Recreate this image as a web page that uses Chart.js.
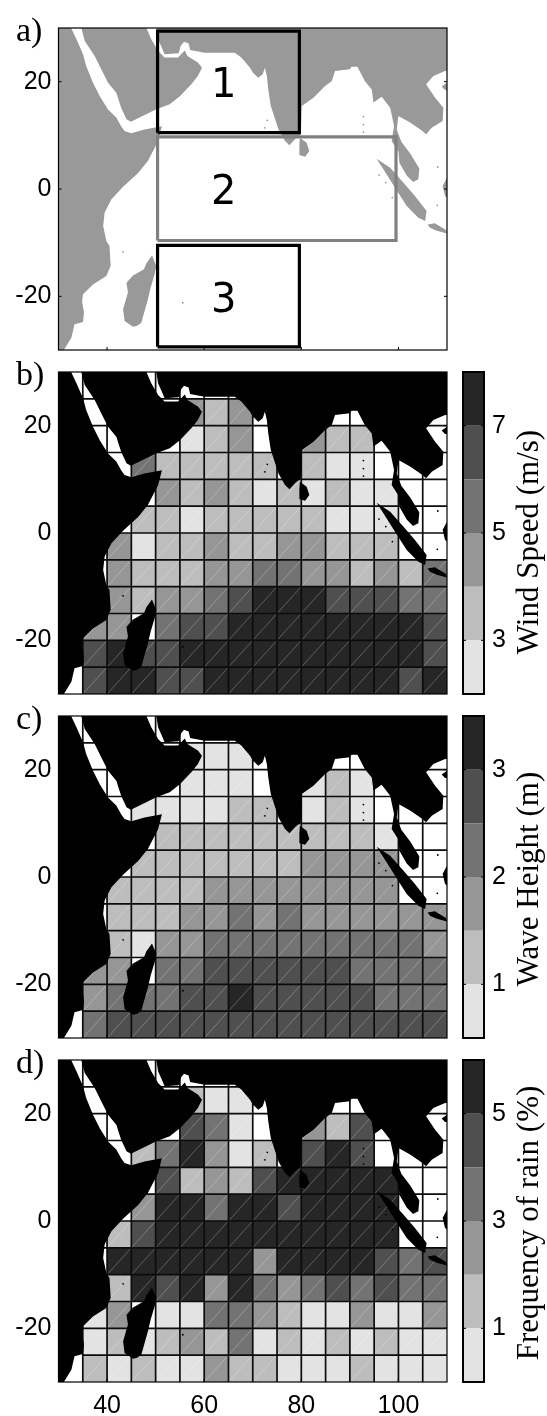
<!DOCTYPE html>
<html>
<head>
<meta charset="utf-8">
<script src="https://cdn.jsdelivr.net/npm/chart.js@4"></script>
<style>
html,body{margin:0;padding:0;background:#fff;}
body{position:relative;width:547px;height:1416px;overflow:hidden;}
canvas{position:absolute;display:block;}
.tag{position:absolute;left:16px;font:34px "Liberation Serif",serif;color:#000;line-height:34px;z-index:5;}
.cbt{position:absolute;left:528px;font:31px "Liberation Serif",serif;color:#000;white-space:nowrap;transform:translate(-50%,-50%) rotate(-90deg);z-index:5;}
</style>
</head>
<body>
<script>
const lonTicks=[40,60,80,100];
const latTicks=[-20,0,20];
const lonEdges=[30,35,40,45,50,55,60,65,70,75,80,85,90,95,100,105];
const latEdges=[25,20,15,10,5,0,-5,-10,-15,-20,-25,-30];
const _=null;
const windSpeed=[
[_,_,_,_,_,_,_,_,_,_,_,_,_,_,_,_],
[_,_,_,_,_,4.5,3.5,4.5,_,_,_,_,_,_,_,_],
[_,_,_,_,_,2.5,3.5,4.5,_,_,4.5,3.5,3.5,_,_,_],
[_,_,_,5.5,3.5,3.5,3.5,3.5,3.5,_,3.5,2.5,2.5,_,_,_],
[_,_,_,_,4.5,3.5,4.5,3.5,2.5,3.5,2.5,3.5,2.5,2.5,_,_],
[_,_,_,3.5,3.5,2.5,3.5,3.5,3.5,3.5,3.5,2.5,2.5,2.5,_,_],
[_,_,4.5,2.5,3.5,3.5,4.5,3.5,3.5,4.5,4.5,3.5,3.5,3.5,_,_],
[_,_,4.5,3.5,3.5,3.5,4.5,4.5,5.5,5.5,4.5,4.5,3.5,4.5,3.5,5.5],
[_,_,4.5,3.5,4.5,4.5,5.5,6.5,7.5,7.5,7.5,6.5,6.5,6.5,5.5,5.5],
[_,4.5,4.5,_,5.5,6.5,6.5,7.5,7.5,7.5,7.5,7.5,7.5,7.5,7.5,6.5],
[_,6.5,7.5,6.5,6.5,7.5,7.5,7.5,7.5,7.5,7.5,7.5,7.5,7.5,7.5,6.5],
[_,6.5,7.5,7.5,6.5,6.5,7.5,7.5,7.5,7.5,7.5,7.5,7.5,7.5,6.5,7.5]];
const waveHeight=[
[_,_,_,_,_,_,_,_,_,_,_,_,_,_,_,_],
[_,_,_,_,_,.75,.75,.75,_,_,_,_,_,_,_,_],
[_,_,_,_,_,.75,.75,.75,_,_,.75,1.25,.75,_,_,_],
[_,_,_,.75,.75,.75,.75,1.25,1.25,_,.75,1.25,.75,_,_,_],
[_,_,_,_,1.25,1.25,1.25,1.25,1.25,1.25,1.25,1.25,1.25,.75,_,_],
[_,_,_,1.25,1.25,1.25,1.25,1.25,1.25,1.25,1.75,1.75,1.75,1.75,_,_],
[_,_,1.25,1.25,1.25,1.25,1.75,1.75,1.75,1.75,1.75,1.75,1.75,1.75,_,_],
[_,_,1.25,1.25,1.25,1.75,1.75,2.25,1.75,2.25,1.75,1.75,1.75,1.75,1.75,1.75],
[_,_,1.25,.75,1.75,1.75,2.25,2.25,2.25,2.25,2.25,2.25,2.25,2.25,2.25,1.75],
[_,1.75,1.75,_,2.25,2.25,2.75,2.75,2.75,2.75,2.75,2.75,2.25,2.25,2.25,2.25],
[_,1.75,2.25,2.25,2.25,2.75,2.75,3.25,2.75,2.75,2.75,2.75,2.75,2.25,2.25,2.25],
[_,2.25,2.75,2.75,2.75,2.75,2.75,2.75,2.75,2.75,2.75,2.75,2.75,2.75,2.75,2.75]];
const rainFreq=[
[_,_,_,_,_,_,_,_,_,_,_,_,_,_,_,_],
[_,_,_,_,_,1.5,.5,.5,_,_,_,_,_,_,_,_],
[_,_,_,_,_,4.5,3.5,.5,_,_,2.5,1.5,4.5,_,_,_],
[_,_,_,1.5,3.5,5.5,2.5,.5,1.5,_,4.5,5.5,4.5,_,_,_],
[_,_,_,_,4.5,1.5,2.5,1.5,4.5,5.5,5.5,5.5,5.5,5.5,_,_],
[_,_,_,2.5,5.5,5.5,3.5,5.5,5.5,4.5,5.5,5.5,5.5,5.5,_,_],
[_,_,1.5,4.5,5.5,5.5,5.5,5.5,5.5,5.5,5.5,5.5,5.5,5.5,_,_],
[_,_,5.5,5.5,5.5,5.5,5.5,5.5,2.5,5.5,5.5,5.5,5.5,4.5,3.5,4.5],
[_,_,1.5,5.5,4.5,5.5,2.5,5.5,3.5,2.5,3.5,4.5,3.5,4.5,3.5,3.5],
[_,.5,2.5,_,.5,.5,3.5,3.5,2.5,1.5,.5,.5,2.5,.5,.5,2.5],
[_,.5,1.5,.5,1.5,2.5,1.5,3.5,.5,1.5,.5,1.5,.5,1.5,.5,.5],
[_,1.5,.5,1.5,.5,.5,2.5,1.5,1.5,.5,.5,.5,1.5,.5,.5,.5]];
const windTicks=[3,5,7];
const waveTicks=[1,2,3];
const rainTicks=[1,3,5];
const grayLevels=['#e3e3e3','#bdbdbd','#969696','#737373','#4f4f4f','#262626'];

const africa=[[30,30],[32.6,30],[33.7,27.9],[35.05,25.1],[35.7,22.9],[37.1,19.8],[38.5,17.3],[40.2,14.8],[41.9,13.3],[42.9,11.7],[43.6,10.8],[45,10.4],[47.7,11.1],[51.3,11.7],[50.5,8.9],[48.4,5.2],[46.4,3],[43.3,0.4],[40.9,-1.9],[39.5,-4.4],[39.2,-6.9],[39.85,-9.7],[40.5,-10.6],[40.75,-14.3],[39.85,-16.2],[37.1,-17.8],[35.05,-19.6],[34.85,-20.9],[35.25,-23],[35.05,-24.8],[33.3,-25.2],[32.65,-27.7],[31.1,-30],[30,-30]];
const arabia=[[34.7,30],[35.4,27.6],[37.45,24.8],[38.8,22.3],[40.2,19.8],[41.9,17.95],[42.9,15.15],[44,13],[44.9,12.55],[50.15,14.85],[52.9,15.8],[55,17.3],[57.35,19.5],[58.7,21.05],[59.55,22.6],[58.7,23.55],[56.55,24.8],[56,25.8],[54.6,24.5],[51.85,24.5],[50.5,25.7],[49.1,27.9],[48.1,30]];
const asia=[[50.15,30],[50.5,27.9],[51.2,26.5],[51.85,25.1],[54.75,25.3],[55.15,26.65],[55.85,27.45],[56.8,27.1],[57.1,25.9],[60.1,25.4],[66.3,25.4],[67.65,24.5],[69.44,22.6],[70,21.7],[71.15,20.75],[72.05,21.4],[72.5,22.6],[72.9,21.05],[73.2,18.55],[73.7,15.5],[75.3,11.1],[76.65,8.95],[77.55,8.15],[78.7,9.25],[79.9,10.2],[80.1,15.45],[82.5,17],[84.9,19.2],[86.25,20.1],[86.95,22],[90,22.3],[90.35,22.8],[91.55,22.8],[93.1,20.1],[94.5,18.55],[94.85,16.1],[96.55,17.2],[98.3,15.15],[99.1,11.75],[98.6,8.95],[100,7],[100.2,4.9],[101.7,2.5],[103,1.3],[104.1,1.8],[104.3,3.8],[102.5,6.5],[100.6,8.8],[99.65,11.1],[100,13.6],[102.4,12.4],[104.8,10.9],[105.7,10.2],[106.85,11.4],[109.1,12.65],[109.25,15.15],[107.55,17],[105.7,19.5],[107.2,21.05],[109.6,22],[110,22],[110,30]];
const madagascar=[[49.25,-12.4],[50.15,-14.35],[49.8,-15.9],[49,-18.3],[48.4,-20.6],[47.05,-24.9],[46.2,-25.5],[45.35,-25.65],[43.6,-24.6],[43.3,-22.4],[44.3,-19.3],[44,-17.45],[45.35,-16.1],[47.6,-14.97],[48.1,-13.85]];
const sriLanka=[[79.7,9.55],[81.1,8.6],[81.65,7.1],[80.8,6],[79.7,6.3],[79.6,8]];
const sumatra=[[95.5,5.65],[98.3,3.97],[101,1.2],[103.4,-1.3],[105.8,-4.1],[105.5,-5.96],[104.1,-5.35],[101.7,-3.17],[99.3,0.25],[96.9,3.66]];
const java=[[106,-6.6],[107.5,-6.4],[109.8,-7.64],[110,-8.3],[107.9,-7.8],[106.5,-7.2]];
const borneo=[[110,2.1],[109.1,0.56],[109.6,-1.3],[110,-1.6]];
const hainan=[[110,19.8],[108.9,19.1],[109.6,18.45],[110,18.45]];
const landShapes=[africa,arabia,asia,madagascar,sriLanka,sumatra,java,borneo,hainan];
const islandLon=[108.1,108,96,97.4,98.75,92.8,92.8,92.8,72.5,43.3,55.6,73];
const islandLat=[4.1,-3.05,2.6,1.2,-1.6,13.5,12,10.6,11.4,-11.7,-21.2,12.8];

const regionNames=['1','2','3'];
const regionLon=[64,64,64];
const regionLat=[20,0,-20];
const regionLons=[[50.4,79.6],[50.4,99.5],[50.4,79.6]];
const regionLats=[[10.5,29.4],[-9.6,9.7],[-29.4,-10.5]];
const regionColors=['#000','#808080','#000'];

const PLOT_H=322;
function levelIndex(v,lo,step){return Math.min(5,Math.max(0,Math.floor((v-lo)/step)));}
function makeCanvas(left,top,w,h){
  const c=document.createElement('canvas');
  c.width=w;c.height=h;
  c.style.left=left+'px';c.style.top=top+'px';c.style.width=w+'px';c.style.height=h+'px';
  document.body.appendChild(c);return c;
}
function addText(cls,txt,css){const d=document.createElement('div');d.className=cls;d.textContent=txt;Object.assign(d.style,css);document.body.appendChild(d);}

const framePlugin={id:'frame',afterDraw(chart,a,opts){
  const {ctx,chartArea:r,scales:s}=chart;
  ctx.save();ctx.strokeStyle='#000';ctx.lineWidth=1.2;
  ctx.strokeRect(r.left,r.top,r.right-r.left,r.bottom-r.top);
  ctx.lineWidth=1;ctx.beginPath();
  latTicks.forEach(v=>{const y=s.y.getPixelForValue(v);ctx.moveTo(r.left,y);ctx.lineTo(r.left+3,y);ctx.moveTo(r.right,y);ctx.lineTo(r.right-3,y);});
  lonTicks.forEach(v=>{const x=s.x.getPixelForValue(v);ctx.moveTo(x,r.bottom);ctx.lineTo(x,r.bottom-3);});
  ctx.stroke();ctx.restore();
}};
const regionLabelPlugin={id:'regionLabels',afterDraw(chart){
  const {ctx,scales:s}=chart;
  ctx.save();ctx.fillStyle='#000';ctx.font='40px "DejaVu Sans"';ctx.textAlign='center';ctx.textBaseline='middle';
  regionNames.forEach((t,i)=>ctx.fillText(t,s.x.getPixelForValue(regionLon[i]),s.y.getPixelForValue(regionLat[i])+5));
  ctx.restore();
}};
const NOPT={x:null,y:null};
function gridSegments(){
  const seg=[];
  lonEdges.slice(1).forEach(lon=>seg.push({x:lon,y:-30},{x:lon,y:30},NOPT));
  latEdges.slice(0,-1).forEach(lat=>seg.push({x:35,y:lat},{x:110,y:lat},NOPT));
  return seg;
}

function mapChart(top,rows,lo,step,landColor,withX,extra){
  const padT=8,padB=4;
  const h=withX?(1416-(top-padT)):PLOT_H+padT+padB;
  const cv=makeCanvas(0,top-padT,455,h);
  const datasets=[];
  if(rows){
    const cells=[],colors=[],diag=[];
    rows.forEach((row,ri)=>row.forEach((v,ci)=>{
      if(v===null)return;
      const lon=lonEdges[ci],lat=latEdges[ri];
      cells.push({x:lon+2.5,y:[lat,lat+5]});
      colors.push(grayLevels[levelIndex(v,lo,step)]);
      diag.push({x:lon,y:lat},{x:lon+5,y:lat+5},NOPT);
    }));
    datasets.push({type:'bar',data:cells,backgroundColor:colors,borderWidth:0,inflateAmount:0,grouped:false,barThickness:388.5/16,order:9});
    datasets.push({type:'scatter',data:diag,showLine:true,borderColor:'rgba(255,255,255,0.38)',borderWidth:0.7,pointRadius:0,fill:false,order:8});
    datasets.push({type:'scatter',data:gridSegments(),showLine:true,borderColor:'#0c0c0c',borderWidth:1.7,pointRadius:0,fill:false,order:7});
  }
  landShapes.forEach(p=>datasets.push({type:'scatter',data:p.map(q=>({x:q[0],y:q[1]})),showLine:true,borderWidth:0,borderColor:landColor,backgroundColor:landColor,pointRadius:0,fill:'shape',tension:0,order:5}));
  datasets.push({type:'scatter',data:islandLon.map((x,i)=>({x,y:islandLat[i]})),pointRadius:0.9,borderWidth:0,backgroundColor:landColor,order:4});
  if(extra) extra.forEach(d=>datasets.push(d));
  return new Chart(cv,{
    data:{datasets},
    plugins:[framePlugin].concat(extra?[regionLabelPlugin]:[]),
    options:{responsive:false,animation:false,devicePixelRatio:1,
      layout:{padding:{top:padT,bottom:withX?0:padB,right:8,left:0}},
      plugins:{legend:{display:false},tooltip:{enabled:false}},
      scales:{
        x:{type:'linear',min:30,max:110,offset:false,display:withX,grid:{display:false,drawTicks:false},border:{display:false},
          afterBuildTicks(s){s.ticks=lonTicks.map(value=>({value}));},
          afterFit(s){if(withX)s.height=h-padT-PLOT_H;s.paddingLeft=0;s.paddingRight=0;},
          ticks:{autoSkip:false,maxRotation:0,padding:9,color:'#000',font:{family:'"Liberation Sans"',size:25},callback:v=>String(v)}},
        y:{type:'linear',min:-30,max:30,grid:{display:false,drawTicks:false},border:{display:false},
          afterBuildTicks(s){s.ticks=latTicks.map(value=>({value}));},
          afterFit(s){s.width=58.5;s.paddingTop=0;s.paddingBottom=0;},
          ticks:{padding:7,color:'#000',font:{family:'"Liberation Sans"',size:25},callback:v=>String(v)}}
      }
    }
  });
}

const cbTicksPlugin={id:'cbTicks',afterDraw(chart,a,opts){
  const {ctx,chartArea:r,scales:s}=chart;
  ctx.save();ctx.strokeStyle='#000';ctx.lineWidth=2;
  ctx.strokeRect(r.left+1,r.top,r.right-r.left-2,r.bottom-r.top);
  ctx.lineWidth=1;ctx.beginPath();
  opts.values.forEach(v=>{const y=s.y.getPixelForValue(v);ctx.moveTo(r.left+1,y);ctx.lineTo(r.left+4,y);ctx.moveTo(r.right-1,y);ctx.lineTo(r.right-4,y);});
  ctx.stroke();ctx.restore();
}};
function colorBar(top,lo,step,tickVals){
  const padT=8,padB=4;
  const cv=makeCanvas(462,top-padT,85,PLOT_H+padT+padB);
  const datasets=grayLevels.map((c,i)=>({type:'bar',data:[[lo+i*step,lo+(i+1)*step]],backgroundColor:c,borderWidth:0,barPercentage:1,categoryPercentage:1,inflateAmount:0,grouped:false}));
  return new Chart(cv,{
    data:{labels:[''],datasets},
    plugins:[cbTicksPlugin],
    options:{responsive:false,animation:false,devicePixelRatio:1,
      layout:{padding:{top:padT,bottom:padB,left:0,right:0}},
      plugins:{legend:{display:false},tooltip:{enabled:false},cbTicks:{values:tickVals}},
      scales:{
        x:{display:false,offset:true,grid:{display:false}},
        y:{position:'right',min:lo,max:lo+6*step,grid:{display:false,drawTicks:false},border:{display:false},
          afterBuildTicks(s){s.ticks=tickVals.map(value=>({value}));},
          afterFit(s){s.width=85-23;s.paddingTop=0;s.paddingBottom=0;},
          ticks:{padding:7,color:'#000',font:{family:'"Liberation Sans"',size:25},callback:v=>String(v)}}
      }
    }
  });
}

const regionSets=regionNames.map((n,i)=>{
  const [x0,x1]=regionLons[i],[y0,y1]=regionLats[i];
  return {type:'scatter',data:[{x:x0,y:y0},{x:x1,y:y0},{x:x1,y:y1},{x:x0,y:y1},{x:x0,y:y0}],showLine:true,borderColor:regionColors[i],borderWidth:3.2,pointRadius:0,fill:false,tension:0,order:i===1?3:2};
});

mapChart(28,null,0,1,'#999999',false,regionSets);
mapChart(372,windSpeed,2,1,'#000',false);
mapChart(716,waveHeight,.5,.5,'#000',false);
mapChart(1060,rainFreq,0,1,'#000',true);
colorBar(372,2,1,windTicks);
colorBar(716,.5,.5,waveTicks);
colorBar(1060,0,1,rainTicks);

addText('tag','a)',{top:'13px'});
addText('tag','b)',{top:'357px'});
addText('tag','c)',{top:'701px'});
addText('tag','d)',{top:'1045px'});
addText('cbt','Wind Speed (m/s)',{top:'542px'});
addText('cbt','Wave Height (m)',{top:'879px'});
addText('cbt','Frequency of rain (%)',{top:'1223px'});
</script>
</body>
</html>
